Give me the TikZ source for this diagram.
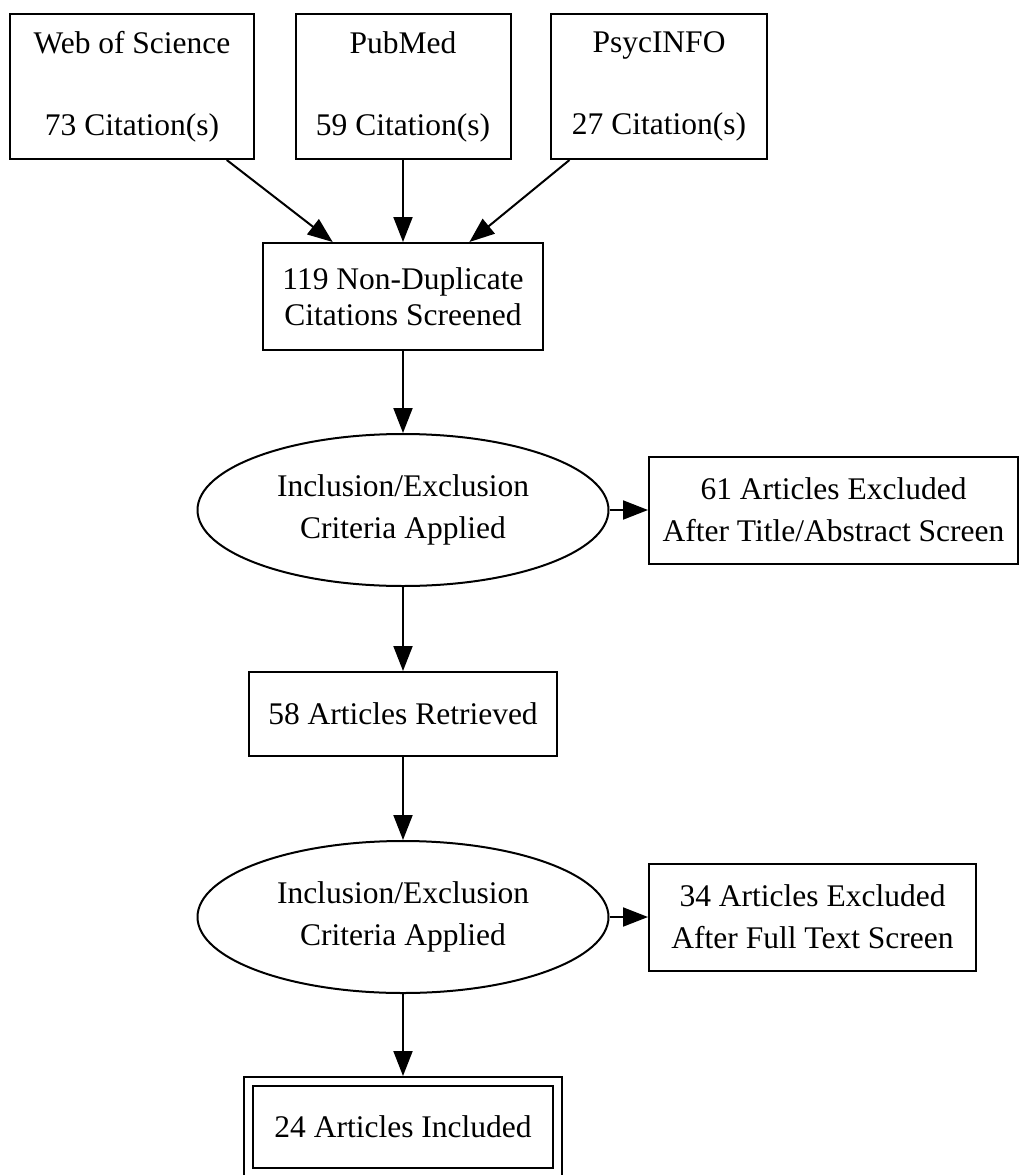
\documentclass[tikz,border=0pt]{standalone}
\usepackage{fontspec}
\setmainfont{Liberation Serif}
\usetikzlibrary{shapes.geometric,arrows.meta}

\begin{document}
\begin{tikzpicture}[x=1pt,y=-1pt,
        box/.style={draw,line width=2pt,rectangle,inner sep=0pt,align=center,font=\fontsize{31.5}{42}\selectfont},
        src/.style={box,minimum height=145pt,font=\fontsize{31.5}{41}\selectfont},
        crit/.style={draw,line width=2pt,ellipse,inner sep=0pt,minimum width=411pt,minimum height=152pt,align=center,font=\fontsize{31.5}{42}\selectfont},
        flow/.style={line width=2pt,-{Triangle[length=25pt,width=19pt]}}]
                \useasboundingbox (0,0) rectangle (1020,1175);
                \node[src,minimum width=244pt](wos) at (132,86.5){Web of Science\\[41pt]73 Citation(s)};
                \node[src,minimum width=215pt](pubmed) at (403,86.5){PubMed\\[41pt]59 Citation(s)};
                \node[src,minimum width=216pt](psyc) at (659,86.5){PsycINFO\\[41pt]27 Citation(s)};
                \node[box,minimum width=280pt,minimum height=107pt,font=\fontsize{31.5}{36}\selectfont](nondup) at (403,296.5){119 Non-Duplicate\\Citations Screened};
                \node[crit](crit1) at (403,510){Inclusion/Exclusion\\Criteria Applied};
                \node[box,minimum width=369pt,minimum height=107pt](excl1) at (833.5,510){61 Articles Excluded\\After Title/Abstract Screen};
                \node[box,minimum width=308pt,minimum height=84pt](retr) at (403,714){58 Articles Retrieved};
                \node[crit](crit2) at (403,917){Inclusion/Exclusion\\Criteria Applied};
                \node[box,minimum width=327pt,minimum height=107pt](excl2) at (812.5,917){34 Articles Excluded\\After Full Text Screen};
                \node[box,double,double distance=7pt,outer sep=5.5pt,minimum width=309pt,minimum height=91pt](incl) at (403,1127){24 Articles Included};
                   \draw[flow](wos)--(nondup);
                   \draw[flow](pubmed)--(nondup);
                   \draw[flow](psyc)--(nondup);
                   \draw[flow](nondup)--(crit1);
                   \draw[flow](crit1)--(excl1);
                   \draw[flow](crit1)--(retr);
                   \draw[flow](retr)--(crit2);
                   \draw[flow](crit2)--(excl2);
                   \draw[flow](crit2)--(incl);
            \end{tikzpicture}
\end{document}
